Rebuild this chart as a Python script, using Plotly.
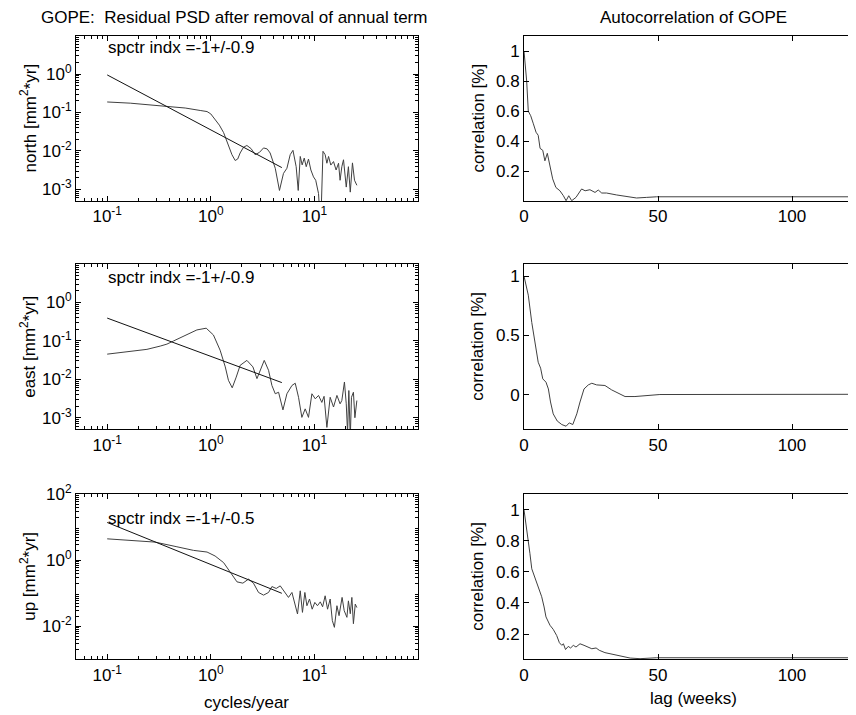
import plotly.graph_objects as go
import math

# ---------------- data ----------------
north_f = [0.10, 0.167, 0.377, 0.566, 0.79, 0.92, 1.00, 1.10, 1.21, 1.33, 1.48, 1.60, 1.72, 1.82, 1.92,
           2.07, 2.23, 2.45, 2.68, 2.95, 3.23, 3.50, 3.74, 4.19, 4.60, 5.03, 5.43, 5.84, 6.21, 6.67,
           6.98, 7.30, 7.62, 7.98, 8.34, 8.77, 9.25, 9.80, 10.3, 10.96, 11.5, 12.1, 12.7, 13.2, 13.7,
           14.4, 15.3, 16.2, 17.1, 17.7, 18.4, 19.1, 20.3, 21.3, 22.2, 23.3, 24.4, 25.7]
north_psd = [0.188, 0.175, 0.144, 0.131, 0.113, 0.106, 0.092, 0.068, 0.047, 0.030, 0.0133, 0.0080, 0.00565, 0.0062, 0.00887,
             0.0125, 0.0139, 0.0115, 0.0080, 0.0092, 0.0120, 0.0113, 0.00887, 0.00355, 0.00094, 0.00261, 0.00355, 0.0080, 0.0104, 0.0039,
             0.00094, 0.0072, 0.00434, 0.00653, 0.0039, 0.00615, 0.0032, 0.00212, 0.00173, 0.00078, 0.0001, 0.0098, 0.0080, 0.0048, 0.0072,
             0.0043, 0.0053, 0.0032, 0.0048, 0.00173, 0.0039, 0.0059, 0.00115, 0.0039, 0.00085, 0.0049, 0.00173, 0.00128]

east_f = [0.10, 0.179, 0.242, 0.325, 0.377, 0.436, 0.588, 0.734, 0.903, 1.06, 1.23, 1.38, 1.48, 1.61, 1.76, 1.92, 2.23,
          2.55, 2.79, 3.0, 3.28, 3.61, 3.89, 4.19, 4.51, 4.97, 5.43, 6.07, 6.53, 7.03, 7.57, 8.15,
          8.77, 9.46, 10.2, 10.96, 11.8, 12.4, 13.2, 14.2, 15.3, 16.5, 17.7, 18.4, 19.5, 20.3, 20.9,
          21.5, 22.2, 22.8, 23.8, 24.6, 25.7]
east_psd = [0.045, 0.055, 0.060, 0.073, 0.082, 0.099, 0.142, 0.192, 0.213, 0.142, 0.057, 0.021, 0.0094, 0.0060, 0.0114, 0.023, 0.031,
            0.021, 0.0104, 0.0171, 0.031, 0.0171, 0.0069, 0.0042, 0.0046, 0.0016, 0.0042, 0.0069, 0.0079, 0.0034, 0.00102, 0.0017,
            0.00102, 0.0042, 0.0031, 0.0038, 0.0025, 0.0036, 0.00056, 0.0034, 0.0019, 0.0038, 0.0023, 0.0028, 0.0085, 0.0023, 0.0004,
            0.0051, 0.0003, 0.0034, 0.0046, 0.0010, 0.0028]

up_f = [0.10, 0.179, 0.29, 0.471, 0.68, 0.92, 1.10, 1.33, 1.56, 1.79, 2.04, 2.31, 2.58, 2.89, 3.23,
        3.61, 3.89, 4.28, 4.68, 5.22, 5.62, 6.07, 6.53, 6.87, 7.30, 7.67, 8.09, 8.47, 8.97, 9.52,
        10.1, 10.7, 11.4, 12.0, 12.7, 13.4, 14.2, 14.9, 15.6, 16.5, 17.3, 17.7, 18.5, 19.4, 20.6,
        21.3, 22.2, 23.0, 23.8, 24.8, 25.7]
up_psd = [4.47, 4.0, 3.56, 2.57, 2.0, 1.78, 1.35, 0.85, 0.42, 0.222, 0.203, 0.268, 0.203, 0.106, 0.088,
          0.106, 0.16, 0.14, 0.168, 0.106, 0.075, 0.106, 0.042, 0.0236, 0.119, 0.0264, 0.106, 0.042, 0.067, 0.033,
          0.053, 0.042, 0.055, 0.039, 0.084, 0.033, 0.067, 0.0149, 0.0093, 0.042, 0.021, 0.037, 0.075, 0.0297, 0.0187,
          0.059, 0.024, 0.075, 0.012, 0.047, 0.037]

# power-law fit lines (end points)
fit_f = [0.1, 4.85]
north_fit = [0.95, 0.0037]
east_fit = [0.39, 0.0082]
up_fit = [14.0, 0.10]

north_lag = [0, 1, 1.6, 2.5, 3.5, 4.5, 5.3, 6, 7, 7.8, 8.7, 9.7, 10.7, 11.9, 13.4, 14.7, 15.7, 16.7, 17.8, 19.4,
             21.5, 22.8, 24.6, 26.5, 27.7, 29, 30.8, 34.6, 38.3, 42, 45.8, 49.5, 130]
north_acf = [1.0, 0.80, 0.60, 0.57, 0.516, 0.46, 0.44, 0.353, 0.34, 0.27, 0.32, 0.24, 0.15, 0.093, 0.071, 0.038, 0.005, 0.038, 0.005, 0.027,
             0.083, 0.071, 0.078, 0.06, 0.076, 0.056, 0.056, 0.043, 0.031, 0.023, 0.027, 0.031, 0.031]

east_lag = [0, 1.6, 2.9, 4.1, 5.3, 6.2, 7, 8.2, 9.1, 9.9, 10.9, 12.4, 14.1, 15.7, 16.9, 18.2, 19.7, 20.9, 22.4, 24,
            25.3, 27.1, 30.2, 32.7, 35.8, 37.7, 41.4, 45.8, 50.7, 130]
east_acf = [1.0, 0.84, 0.61, 0.42, 0.275, 0.225, 0.135, 0.107, 0.05, -0.06, -0.16, -0.22, -0.25, -0.264, -0.236, -0.25, -0.16, -0.06, 0.05, 0.084,
            0.098, 0.084, 0.079, 0.042, 0.003, -0.014, -0.014, -0.005, 0.003, 0.005]

up_lag = [0, 1.2, 2.2, 2.9, 4.1, 5.3, 6.6, 7.5, 8.2, 9.7, 10.9, 12.2, 13.2, 14.1, 14.7, 15.5, 16.5, 17.4, 18.4, 19.4,
          20.9, 22.4, 24, 25.3, 26.9, 28.1, 30.2, 32.1, 34, 36.5, 39.6, 43.3, 49.5, 130]
up_acf = [1.0, 0.86, 0.72, 0.62, 0.557, 0.50, 0.44, 0.374, 0.31, 0.256, 0.23, 0.19, 0.144, 0.127, 0.137, 0.10, 0.12, 0.11, 0.127, 0.116,
          0.137, 0.127, 0.116, 0.105, 0.11, 0.095, 0.08, 0.073, 0.066, 0.052, 0.045, 0.041, 0.047, 0.047]

psd_xticks = [0.1, 1, 10]
psd_xtext = ["10<sup>-1</sup>", "10<sup>0</sup>", "10<sup>1</sup>"]
ne_yticks = [1e-3, 1e-2, 1e-1, 1]
ne_ytext = ["10<sup>-3</sup>", "10<sup>-2</sup>", "10<sup>-1</sup>", "10<sup>0</sup>"]
up_yticks = [1e-2, 1, 100]
up_ytext = ["10<sup>-2</sup>", "10<sup>0</sup>", "10<sup>2</sup>"]
lag_ticks = [0, 50, 100]
corr_ticks_a = [0.2, 0.4, 0.6, 0.8, 1]
corr_text_a = ["0.2", "0.4", "0.6", "0.8", "1"]
corr_ticks_b = [0, 0.5, 1]
corr_text_b = ["0", "0.5", "1"]

# ---------------- figure ----------------
W, H = 856, 715
OFF = 8  # page body margin: figure pixels = screen pixels - OFF
FONT = "Arial, Liberation Sans, sans-serif"
FS = 17
LINE = "#000000"
CURVE = "#404040"

def px_x(p):
    return (p - OFF) / W

def px_y(p):
    return 1 - (p - OFF) / H

left_dom = [px_x(76), px_x(418)]
right_dom = [px_x(524), 1.0]
lag_max = (W + OFF - 524) / 2.68
rows = [(36, 201), (264.3, 429.3), (494.3, 659.3)]

def minor_vals(lo_exp, hi_exp):
    vals = []
    for e in range(lo_exp, hi_exp + 1):
        for m in range(2, 10):
            vals.append(m * 10 ** e)
    return vals

fig = go.Figure()

psd_sets = [(north_f, north_psd, north_fit), (east_f, east_psd, east_fit), (up_f, up_psd, up_fit)]
acf_sets = [(north_lag, north_acf), (east_lag, east_acf), (up_lag, up_acf)]

for r in range(3):
    kl = 2 * r + 1
    kr = 2 * r + 2
    f, p, fit = psd_sets[r]
    fig.add_trace(go.Scatter(x=f, y=p, mode="lines", line=dict(color=CURVE, width=1),
                             xaxis=f"x{kl}", yaxis=f"y{kl}", showlegend=False))
    fig.add_trace(go.Scatter(x=fit_f, y=fit, mode="lines", line=dict(color="#111", width=1),
                             xaxis=f"x{kl}", yaxis=f"y{kl}", showlegend=False))
    lag, acf = acf_sets[r]
    fig.add_trace(go.Scatter(x=lag, y=acf, mode="lines", line=dict(color=CURVE, width=1),
                             xaxis=f"x{kr}", yaxis=f"y{kr}", showlegend=False))

common = dict(showline=True, linecolor=LINE, linewidth=1, showgrid=False, zeroline=False,
              automargin=False, ticks="inside", tickcolor=LINE, ticklen=5, tickwidth=1,
              tickfont=dict(family=FONT, size=FS, color="#000"))

layout = dict(template="none", width=W, height=H,
              margin=dict(l=0, r=0, t=0, b=0, pad=0, autoexpand=False),
              paper_bgcolor="white", plot_bgcolor="white", showlegend=False,
              font=dict(family=FONT, size=FS, color="#000"))

ylog_ranges = [[math.log10(5e-4), 0.99], [math.log10(5e-4), 0.99], [-3, 2]]
yacf_ranges = [[0.003, 1.1], [-0.29, 1.1], [0.037, 1.1]]

for r in range(3):
    kl = 2 * r + 1
    kr = 2 * r + 2
    top, bot = rows[r]
    ydom = [px_y(bot), px_y(top)]
    layout[f"xaxis{kl}"] = dict(common, type="log", domain=left_dom, anchor=f"y{kl}",
                                range=[math.log10(0.05), 2], mirror="ticks",
                                tickmode="array", tickvals=psd_xticks, ticktext=psd_xtext,
                                minor=dict(tickmode="array", tickvals=minor_vals(-2, 1), ticks="inside",
                                           ticklen=3, tickcolor=LINE, showgrid=False))
    if r < 2:
        yt, ytt, mv = ne_yticks, ne_ytext, minor_vals(-4, 0)
    else:
        yt, ytt, mv = up_yticks, up_ytext, minor_vals(-3, 1)
    layout[f"yaxis{kl}"] = dict(common, type="log", domain=ydom, anchor=f"x{kl}",
                                range=ylog_ranges[r], mirror="ticks",
                                tickmode="array", tickvals=yt, ticktext=ytt,
                                minor=dict(tickmode="array", tickvals=mv, ticks="inside",
                                           ticklen=3, tickcolor=LINE, showgrid=False))
    layout[f"xaxis{kr}"] = dict(common, domain=right_dom, anchor=f"y{kr}",
                                range=[0, lag_max], mirror="ticks",
                                tickmode="array", tickvals=lag_ticks, ticktext=[str(v) for v in lag_ticks])
    if r == 1:
        ct, ctt = corr_ticks_b, corr_text_b
    else:
        ct, ctt = corr_ticks_a, corr_text_a
    layout[f"yaxis{kr}"] = dict(common, domain=ydom, anchor=f"x{kr}",
                                range=yacf_ranges[r], mirror=False,
                                tickmode="array", tickvals=ct, ticktext=ctt)

fig.update_layout(**layout)

ann = []
def add_text(text, x, y, angle=0, xanchor="center", yanchor="middle"):
    ann.append(dict(text=text, x=px_x(x), y=px_y(y), xref="paper", yref="paper",
                    showarrow=False, textangle=angle, xanchor=xanchor, yanchor=yanchor,
                    font=dict(family=FONT, size=FS, color="#000")))

add_text("GOPE:\u00a0 Residual PSD after removal of annual term", 234, 18)
add_text("Autocorrelation of GOPE", 693, 18)
ylabels = ["north [mm<sup>2</sup>*yr]", "east [mm<sup>2</sup>*yr]", "up [mm<sup>2</sup>*yr]"]
spctr = ["spctr indx =-1+/-0.9", "spctr indx =-1+/-0.9", "spctr indx =-1+/-0.5"]
spctr_y = [47, 277, 518]
for r in range(3):
    top, bot = rows[r]
    cy = (top + bot) / 2
    add_text(ylabels[r], 28, cy, angle=-90)
    add_text("correlation [%]", 478, cy, angle=-90)
    add_text(spctr[r], 106, spctr_y[r], xanchor="left")
add_text("cycles/year", 246, 702)
add_text("lag (weeks)", 693, 698)
fig.update_layout(annotations=ann)

fig.write_html("out.html")
